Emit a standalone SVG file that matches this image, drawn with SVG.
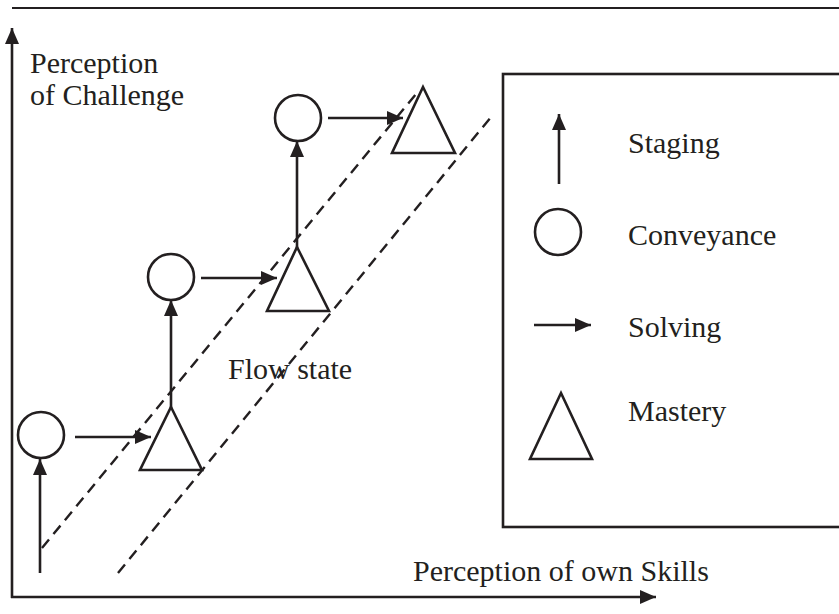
<svg xmlns="http://www.w3.org/2000/svg" width="839" height="614" viewBox="0 0 839 614">
  <style>
    .ln { stroke: #231f20; stroke-width: 2.6; fill: none; }
    .dash { stroke: #231f20; stroke-width: 2.4; fill: none; stroke-dasharray: 11 7; }
    .shape { stroke: #231f20; stroke-width: 2.6; fill: #ffffff; }
    .lbl { font-family: "Liberation Serif", "Times New Roman", serif; font-size: 30px; fill: #231f20; }
  </style>
  <defs>
    <marker id="ah" markerUnits="userSpaceOnUse" markerWidth="18" markerHeight="14" refX="16" refY="7" orient="auto">
      <path d="M0,0 L16,7 L0,14 Z" fill="#231f20"/>
    </marker>
  </defs>
  <rect width="839" height="614" fill="#ffffff"/>

  <!-- top rule -->
  <line x1="12" y1="8" x2="839" y2="8" stroke="#231f20" stroke-width="2.2"/>

  <!-- axes -->
  <g id="axes">
    <line class="ln" x1="12" y1="598" x2="12" y2="28" marker-end="url(#ah)"/>
    <line class="ln" x1="11" y1="597" x2="656" y2="597" marker-end="url(#ah)"/>
    <text class="lbl" x="30" y="73">Perception</text>
    <text class="lbl" x="30" y="105">of Challenge</text>
    <text class="lbl" x="413" y="581">Perception of own Skills</text>
  </g>

  <!-- flow channel -->
  <g id="flow-channel">
    <line class="dash" x1="42" y1="548" x2="416" y2="94"/>
    <line class="dash" x1="118" y1="573" x2="491" y2="117"/>
    <text class="lbl" x="228" y="379">Flow state</text>
  </g>

  <!-- connectors -->
  <g id="connectors">
    <line class="ln" x1="40" y1="573" x2="40" y2="459" marker-end="url(#ah)"/>
    <line class="ln" x1="75" y1="437" x2="151" y2="437" marker-end="url(#ah)"/>
    <line class="ln" x1="171" y1="408" x2="171" y2="300" marker-end="url(#ah)"/>
    <line class="ln" x1="201" y1="278" x2="277" y2="278" marker-end="url(#ah)"/>
    <line class="ln" x1="297" y1="248" x2="297" y2="141" marker-end="url(#ah)"/>
    <line class="ln" x1="328" y1="118" x2="403" y2="118" marker-end="url(#ah)"/>
  </g>

  <!-- conveyance nodes -->
  <g id="conveyance-1"><circle class="shape" cx="41" cy="435" r="23"/></g>
  <g id="conveyance-2"><circle class="shape" cx="171" cy="277" r="23"/></g>
  <g id="conveyance-3"><circle class="shape" cx="298" cy="118" r="23"/></g>

  <!-- mastery nodes -->
  <g id="mastery-1"><polygon class="shape" points="171,407 202,470 140,470"/></g>
  <g id="mastery-2"><polygon class="shape" points="297,247 329,311 267,311"/></g>
  <g id="mastery-3"><polygon class="shape" points="423,87 455,153 392,153"/></g>

  <!-- legend -->
  <g id="legend">
    <rect class="ln" x="503" y="74" width="345" height="453"/>
    <line class="ln" x1="559" y1="184" x2="559" y2="114" marker-end="url(#ah)"/>
    <text class="lbl" x="628" y="153">Staging</text>
    <circle class="shape" cx="558" cy="232" r="23"/>
    <text class="lbl" x="628" y="245">Conveyance</text>
    <line class="ln" x1="534" y1="325" x2="591" y2="325" marker-end="url(#ah)"/>
    <text class="lbl" x="628" y="337">Solving</text>
    <polygon class="shape" points="561,393 592,459 530,459"/>
    <text class="lbl" x="628" y="421">Mastery</text>
  </g>
</svg>
